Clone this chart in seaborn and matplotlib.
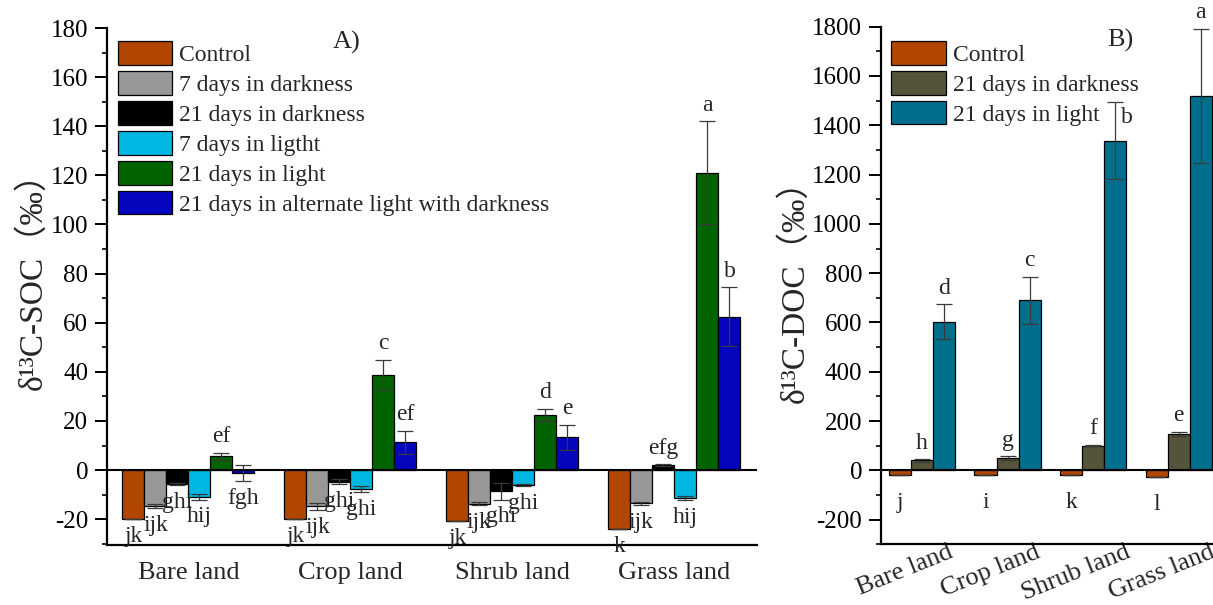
import numpy as np
import pandas as pd
import matplotlib
matplotlib.use("Agg")
import matplotlib.pyplot as plt
import seaborn as sns
from matplotlib.ticker import MultipleLocator
from matplotlib.transforms import ScaledTranslation

# ---------------- data ----------------
lands = ["Bare land", "Crop land", "Shrub land", "Grass land"]

treat_A = ["Control", "7 days in darkness", "21 days in darkness",
           "7 days in ligtht", "21 days in light",
           "21 days in alternate light with darkness"]
soc_control = [-20.0, -19.8, -20.6, -23.9]
soc_control_err = [0.0, 0.0, 0.0, 0.0]
soc_dark7 = [-14.7, -14.7, -13.7, -13.6]
soc_dark7_err = [0.9, 1.4, 0.5, 0.7]
soc_dark21 = [-5.8, -4.8, -8.6, 2.0]
soc_dark21_err = [0.4, 1.0, 3.4, 0.4]
soc_light7 = [-10.9, -7.6, -6.1, -11.5]
soc_light7_err = [1.1, 1.3, 0.5, 0.8]
soc_light21 = [5.7, 38.8, 22.5, 121.0]
soc_light21_err = [1.4, 6.0, 2.5, 21.0]
soc_alt = [-1.2, 11.3, 13.3, 62.5]
soc_alt_err = [3.3, 4.7, 5.2, 12.0]
letters_A = [["jk", "jk", "jk", "k"],
             ["ijk", "ijk", "ijk", "ijk"],
             ["ghi", "ghi", "ghi", "efg"],
             ["hij", "ghi", "ghi", "hij"],
             ["ef", "c", "d", "a"],
             ["fgh", "ef", "e", "b"]]

treat_B = ["Control", "21 days in darkness", "21 days in light"]
doc_control = [-20.0, -20.0, -20.0, -27.0]
doc_control_err = [0.0, 0.0, 0.0, 0.0]
doc_dark21 = [40.5, 48.6, 100.0, 148.6]
doc_dark21_err = [5.0, 8.0, 3.0, 9.0]
doc_light21 = [603.0, 690.0, 1338.0, 1520.0]
doc_light21_err = [70.0, 95.0, 157.0, 272.0]
letters_B = [["j", "i", "k", "l"],
             ["h", "g", "f", "e"],
             ["d", "c", "b", "a"]]

colors_A = ["#B04600", "#989898", "#000000", "#00B6E2", "#006300", "#0505BE"]
colors_B = ["#B04600", "#55533A", "#006F8E"]

vals_A = [soc_control, soc_dark7, soc_dark21, soc_light7, soc_light21, soc_alt]
errs_A = [soc_control_err, soc_dark7_err, soc_dark21_err, soc_light7_err,
          soc_light21_err, soc_alt_err]
vals_B = [doc_control, doc_dark21, doc_light21]
errs_B = [doc_control_err, doc_dark21_err, doc_light21_err]

dfA = pd.DataFrame([{"land": l, "treatment": t, "value": v[j]}
                    for t, v in zip(treat_A, vals_A) for j, l in enumerate(lands)])
dfB = pd.DataFrame([{"land": l, "treatment": t, "value": v[j]}
                    for t, v in zip(treat_B, vals_B) for j, l in enumerate(lands)])

# ---------------- style ----------------
sns.set_style("ticks")
plt.rcParams["font.family"] = ["Liberation Serif", "Noto Sans CJK SC"]
plt.rcParams["axes.unicode_minus"] = False

fig = plt.figure(figsize=(12.13, 6.05), dpi=100)
axA = fig.add_axes([0.0882, 0.0992, 0.5359, 0.8545])
axB = fig.add_axes([0.7262, 0.1003, 0.2745, 0.8556])


def draw(ax, df, treats, vals, errs, letters, colors, width, off_pos, off_neg,
         beside=()):
    sns.barplot(data=df, x="land", y="value", hue="treatment", order=lands,
                hue_order=treats, palette=colors, width=width, saturation=1,
                edgecolor="black", linewidth=0.9, errorbar=None, legend=False,
                ax=ax, zorder=2)
    bars = list(ax.containers)
    for i, cont in enumerate(bars):
        xs = [p.get_x() + p.get_width() / 2 for p in cont.patches]
        ax.errorbar(xs, vals[i], yerr=errs[i], fmt="none", ecolor="#3a3a3a",
                    elinewidth=0.9, capsize=5.5, capthick=0.9, zorder=3)
        for j, (x, v, e, t) in enumerate(zip(xs, vals[i], errs[i], letters[i])):
            if (i, j) in beside:
                ax.annotate(t, (x, v + e), xytext=(4, -11),
                            textcoords="offset points", ha="left", va="center",
                            fontsize=17)
            elif v >= 0:
                ax.annotate(t, (x, v + e), xytext=(0, off_pos),
                            textcoords="offset points", ha="center", va="bottom",
                            fontsize=17)
            else:
                ax.annotate(t, (x, v - e), xytext=(0, -off_neg),
                            textcoords="offset points", ha="center", va="top",
                            fontsize=17)
    ax.axhline(0, color="black", lw=1.5, zorder=4)
    for s in ["top", "right"]:
        ax.spines[s].set_visible(False)
    for s in ["left", "bottom"]:
        ax.spines[s].set_linewidth(1.6)
        ax.spines[s].set_color("black")
    ax.set_xlabel("")
    ax.tick_params(axis="y", which="major", direction="out", length=8.5, width=1.4,
                   labelsize=18, pad=5, colors="black", left=True)
    ax.tick_params(axis="y", which="minor", direction="out", length=3.8, width=1.2,
                   left=True, colors="black")
    ax.tick_params(axis="x", which="both", bottom=False, length=0)
    return bars


barsA = draw(axA, dfA, treat_A, vals_A, errs_A, letters_A, colors_A, 0.815, 4, 5)
axA.set_xlim(-0.503, 3.51)
axA.set_ylim(-30.5, 180)
axA.yaxis.set_major_locator(MultipleLocator(20))
axA.yaxis.set_minor_locator(MultipleLocator(10))
axA.tick_params(axis="x", labelsize=19, pad=12)
axA.set_ylabel("δ¹³C-SOC（‰）", fontsize=24)
axA.yaxis.set_label_coords(-0.09, 0.526)
axA.legend(barsA, treat_A, loc="upper left", bbox_to_anchor=(0.017, 0.974),
           frameon=False, fontsize=17, handlelength=2.3, handleheight=1.15,
           labelspacing=0.22, handletextpad=0.3, borderaxespad=0, borderpad=0)
axA.text(0.369, 0.973, "A)", transform=axA.transAxes, ha="center", va="center",
         fontsize=19)

barsB = draw(axB, dfB, treat_B, vals_B, errs_B, letters_B, colors_B, 0.775, 4, 12,
             beside={(2, 2)})
axB.set_xlim(-0.48, 3.41)
axB.set_ylim(-300, 1800)
axB.yaxis.set_major_locator(MultipleLocator(200))
axB.yaxis.set_minor_locator(MultipleLocator(100))
axB.tick_params(axis="x", labelsize=19, pad=0)
for lab in axB.get_xticklabels():
    lab.set_rotation(22)
    lab.set_ha("center")
    lab.set_transform(lab.get_transform() +
                      ScaledTranslation(-0.17, 0.03, fig.dpi_scale_trans))
axB.set_ylabel("δ¹³C-DOC（‰）", fontsize=24)
axB.yaxis.set_label_coords(-0.21, 0.505)
axB.legend(barsB, treat_B, loc="upper left", bbox_to_anchor=(0.031, 0.972),
           frameon=False, fontsize=17, handlelength=2.3, handleheight=1.15,
           labelspacing=0.22, handletextpad=0.3, borderaxespad=0, borderpad=0)
axB.text(0.72, 0.974, "B)", transform=axB.transAxes, ha="center", va="center",
         fontsize=19)

fig.savefig("out.png", dpi=100)
